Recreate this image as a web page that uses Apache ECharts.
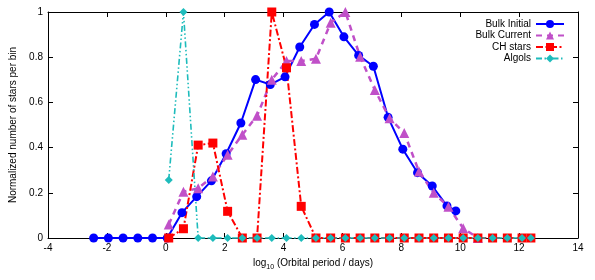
<!DOCTYPE html>
<html><head><meta charset="utf-8">
<script src="https://cdn.jsdelivr.net/npm/echarts@6/dist/echarts.min.js"></script>
<style>html,body{margin:0;padding:0;background:#fff}#c{width:595px;height:280px}</style>
</head><body><div id="c"></div>
<script>
const seriesNames = ['Bulk Initial', 'Bulk Current', 'CH stars', 'Algols'];

const initialX = [-2.45, -1.95, -1.45, -0.95, -0.45, 0.05, 0.55, 1.05, 1.55, 2.05, 2.55, 3.05, 3.55, 4.05, 4.55, 5.05, 5.55, 6.05, 6.55, 7.05, 7.55, 8.05, 8.55, 9.05, 9.55, 9.85];
const initialY = [0, 0, 0, 0, 0, 0, 0.112, 0.183, 0.253, 0.373, 0.509, 0.701, 0.679, 0.713, 0.845, 0.945, 1.0, 0.89, 0.808, 0.76, 0.534, 0.393, 0.289, 0.23, 0.142, 0.12];

const currentX = [0.1, 0.6, 1.1, 1.6, 2.1, 2.6, 3.1, 3.6, 4.1, 4.6, 5.1, 5.6, 6.1, 6.6, 7.1, 7.6, 8.1, 8.6, 9.1, 9.6, 10.1, 10.6];
const currentY = [0.06, 0.205, 0.22, 0.272, 0.368, 0.457, 0.541, 0.70, 0.783, 0.783, 0.793, 0.952, 1.0, 0.802, 0.655, 0.53, 0.465, 0.294, 0.2, 0.138, 0.043, 0];

const chX = [0.1, 0.6, 1.1, 1.6, 2.1, 2.6, 3.1, 3.6, 4.1, 4.6, 5.1, 5.6, 6.1, 6.6, 7.1, 7.6, 8.1, 8.6, 9.1, 9.6, 10.1, 10.6, 11.1, 11.6, 12.1, 12.4];
const chY = [0, 0.041, 0.411, 0.42, 0.118, 0, 0, 1.0, 0.753, 0.14, 0, 0, 0, 0, 0, 0, 0, 0, 0, 0, 0, 0, 0, 0, 0, 0];

const algolX = [0.1, 0.6, 1.1, 1.6, 2.1, 2.6, 3.1, 3.6, 4.1, 4.6, 5.1, 5.6, 6.1, 6.6, 7.1, 7.6, 8.1, 8.6, 9.1, 9.6, 10.1, 10.6, 11.1, 11.6, 12.1, 12.4];
const algolY = [0.257, 1.0, 0, 0, 0, 0, 0, 0, 0, 0, 0, 0, 0, 0, 0, 0, 0, 0, 0, 0, 0, 0, 0, 0, 0, 0];

const xMin = -4, xMax = 14, xStep = 2;
const yMin = 0, yMax = 1, yStep = 0.2;

function pairs(xs, ys) { return xs.map((x, i) => [x, ys[i]]); }

const font = '"Liberation Sans", Arial, sans-serif';
const axisCommon = {
  axisLine: { onZero: false, lineStyle: { color: '#000', width: 1 } },
  axisTick: { inside: true, length: 5, lineStyle: { color: '#000', width: 1 } },
  splitLine: { show: false }
};

const chart = echarts.init(document.getElementById('c'));
chart.setOption({
  animation: false,
  grid: { left: 43, right: 17, top: 12, bottom: 42 },
  xAxis: [
    Object.assign({
      type: 'value', min: xMin, max: xMax, interval: xStep, position: 'bottom',
      axisLabel: { color: '#000', fontSize: 10, fontFamily: font, margin: 5 },
      name: '{a|log}{b|10}{a| (Orbital period / days)}',
      nameLocation: 'middle', nameGap: 18,
      nameTextStyle: {
        color: '#000', fontFamily: font, fontSize: 10,
        rich: {
          a: { fontSize: 10, fontFamily: font, color: '#000', lineHeight: 12, verticalAlign: 'top' },
          b: { fontSize: 7, fontFamily: font, color: '#000', lineHeight: 7, padding: [6, 0, 0, 0], verticalAlign: 'top' }
        }
      }
    }, axisCommon),
    Object.assign({
      type: 'value', min: xMin, max: xMax, interval: xStep, position: 'top',
      axisLabel: { show: false }
    }, axisCommon)
  ],
  yAxis: [
    Object.assign({
      type: 'value', min: yMin, max: yMax, interval: yStep, position: 'left',
      axisLabel: { color: '#000', fontSize: 10, fontFamily: font, margin: 5 },
      name: 'Normalized number of stars per bin',
      nameLocation: 'middle', nameGap: 30,
      nameTextStyle: { color: '#000', fontFamily: font, fontSize: 10 }
    }, axisCommon),
    Object.assign({
      type: 'value', min: yMin, max: yMax, interval: yStep, position: 'right',
      axisLabel: { show: false }
    }, axisCommon)
  ],
  legend: {
    orient: 'vertical', align: 'right', right: 25, top: 14,
    itemWidth: 28, itemHeight: 10, itemGap: 1.5,
    textStyle: { color: '#000', fontSize: 10, fontFamily: font, lineHeight: 10 },
    data: seriesNames
  },
  series: [
    {
      name: seriesNames[0], type: 'line', data: pairs(initialX, initialY), clip: false,
      symbol: 'circle', symbolSize: 9,
      lineStyle: { color: '#0000ff', width: 2 }, itemStyle: { color: '#0000ff' }
    },
    {
      name: seriesNames[1], type: 'line', data: pairs(currentX, currentY), clip: false,
      symbol: 'triangle', symbolSize: 10,
      lineStyle: { color: '#c050c8', width: 2.5, type: [6, 5] }, itemStyle: { color: '#c050c8' }
    },
    {
      name: seriesNames[2], type: 'line', data: pairs(chX, chY), clip: false,
      symbol: 'rect', symbolSize: 9,
      lineStyle: { color: '#ff0000', width: 2, type: [7, 2.5, 2, 2.5] }, itemStyle: { color: '#ff0000' }
    },
    {
      name: seriesNames[3], type: 'line', data: pairs(algolX, algolY), clip: false,
      symbol: 'diamond', symbolSize: 8,
      lineStyle: { color: '#1ebcbc', width: 1.6, type: [6, 2.5, 1.5, 2.5, 1.5, 2.5] }, itemStyle: { color: '#1ebcbc' }
    }
  ]
});
</script>
</body></html>
